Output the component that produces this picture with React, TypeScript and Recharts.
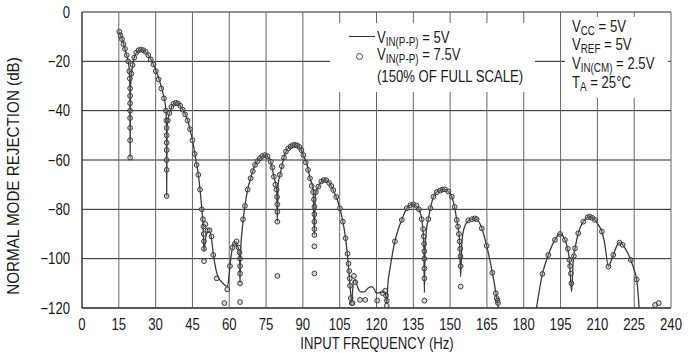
import {
  ComposedChart,
  Line,
  Scatter,
  XAxis,
  YAxis,
  CartesianGrid,
} from "recharts";

const font = "'Liberation Sans', Arial, sans-serif";
const squeeze = 0.82; // the datasheet font is a narrow Helvetica

const freqTicks = [0, 15, 30, 45, 60, 75, 90, 105, 120, 135, 150, 165, 180, 195, 210, 225, 240];
const dbTicks = [0, -20, -40, -60, -80, -100, -120];

// VIN(P-P) = 5V, solid line (null = curve is below -120 dB)
const lineFreq = [
  15.2, 16, 17, 18, 19, 19.5, 19.6, 19.8, 20.3, 21, 22, 23, 24.3, 25.5, 27, 28.5, 30, 31.5, 33, 34, 34.4, 34.5, 34.7,
  35.5, 36.5, 37.6, 38.6, 39.8, 41, 42.7, 44, 45.3, 46.3, 47.4, 48.3, 49, 49.3, 49.7, 50.3, 51, 51.9, 52.7, 53.5,
  54.5, 55.5, 57, 58.5, 59.3, 60, 60.5, 61.2, 62, 63, 63.8, 64.2, 64.4, 64.6, 65.3, 66.4, 67.5, 68.7, 70.5, 72.5,
  74.6, 76, 76.9, 78.2, 79.3, 79.6, 79.9, 81, 82, 83.1, 85, 86.8, 88.5, 90.2, 91.7, 92.9, 94.2, 94.7, 95.1, 96.3,
  97.5, 99, 100.7, 102.4, 104, 105.1, 106.3, 107.4, 108.3, 108.9, 109.3, 109.9, 110.5, 111.2, 112.3, 113.3, 115,
  116.5, 118, 119.2, 120, 121.5, 123.5, 124.2, 124.6, 125.5, 126.5, 127.5, 128.9, 130.3, 132.3, 133.7, 135, 136.2,
  137.3, 138.6, 139.3, 139.5, 139.8, 140.4, 141.1, 142.1, 143.2, 144.5, 145.9, 147.9, 149.3, 150.7, 151.8, 152.7,
  153.8, 154.3, 154.8, 155.6, 157, 158.8, 160.8, 162.9, 164.9, 167.2, 169, 169.6, 177, 185.2, 187.6, 190, 192.7,
  194.8, 196.8, 198.6, 199.5, 200.2, 200.9, 202.2, 204.3, 205.5, 207, 209, 210.5, 211.8, 213, 214.5, 215.5, 216.5,
  217.8, 219, 220.2, 221.3, 222.5, 223.6, 225, 226, 226.6, 227,
];
const lineDb = [
  -8, -10, -13, -17, -21, -28, -59, -30, -24, -19.5, -16.8, -15.6, -15.3, -15.8, -17.5, -20, -23.5, -27.5, -33, -38,
  -44, -74.6, -46, -41.5, -38.5, -37, -36.8, -37.8, -39.5, -42.8, -47.5, -53.5, -59.5, -66, -74, -82, -86, -97, -92,
  -89.5, -88.8, -91.5, -98, -104, -107.5, -109.5, -111, -111.3, -106, -101, -96, -94, -94.5, -96, -100, -110, -98,
  -88, -78.6, -72, -67.4, -62, -59.3, -58, -59, -60.7, -66.8, -72, -85, -70, -64.7, -60, -56.6, -54.5, -53.9, -54.6,
  -58, -62, -67.4, -72, -90.4, -74, -70.8, -68.8, -68.1, -69.2, -72.2, -76, -79.6, -85, -91.7, -100, -107, -112, -118,
  -110, -108.6, -111.5, -113.4, -113.5, -112, -111.3, -112.5, -114, -113.7, -113.8, -118, -111, -104, -98, -93, -88,
  -84.3, -79.6, -78.3, -78, -78.6, -80, -85, -95, -113.8, -96, -88, -84, -79, -74.9, -73, -72.4, -71.9, -72.8, -74.9,
  -79, -84.3, -92, -107.3, -93, -88, -85, -84, -84, -87.7, -94.8, -105.7, -116, -120, null, -120, -106.2, -98.5, -92.4,
  -90, -92.4, -100.5, -113.4, -100, -95.8, -89.7, -85, -83.5, -83, -84.3, -86.5, -89, -94, -103.2, -101, -98.5, -95,
  -93.5, -94.2, -95.8, -98, -100.5, -104.5, -108.4, -114, -120,
];

// VIN(P-P) = 7.5V, open circles
const circleFreq = [
  15.2, 15.7, 16.3, 16.9, 17.5, 18.2, 18.8, 19.3, 19.5, 19.6, 19.6, 19.6, 19.6, 19.6, 19.6, 19.6, 19.6, 20.1, 20.6,
  21.3, 22.1, 23, 24, 25, 26, 27, 28, 29.1, 30.1, 31.2, 32.3, 33.4, 34.2, 34.4, 34.5, 34.5, 34.5, 34.5, 34.5, 34.5,
  34.5, 35, 35.6, 36.4, 37.3, 38.2, 39.1, 40, 41, 42, 43, 44, 45, 45.9, 46.7, 47.4, 48.1, 48.8, 49.3, 49.5, 49.6,
  49.7, 49.7, 49.7, 50.3, 51.2, 52, 52.8, 53.5, 54.9, 58, 59.2, 60.3, 61.3, 62.3, 63, 63.8, 64.2, 64.4, 64.4, 64.4,
  64.4, 64.4, 65.6, 66.4, 67.5, 68.7, 69.6, 70.5, 71.5, 72.5, 73.5, 74.6, 75.6, 76.9, 77.6, 78.2, 78.8, 79.3, 79.5,
  79.6, 79.6, 79.6, 79.6, 80.6, 81.4, 82.3, 83.1, 84, 85, 85.9, 86.8, 87.7, 88.6, 89.4, 90.2, 91.2, 92.1, 92.9, 93.6,
  94.2, 94.5, 94.7, 94.7, 94.7, 94.7, 94.7, 94.7, 94.7, 95.3, 96.3, 97.5, 98.5, 99.5, 100.7, 101.6, 102.4, 103.6,
  105.1, 106.3, 107.4, 108.2, 108.6, 108.9, 109.1, 109.2, 109.5, 109.9, 110.2, 110.8, 111.3, 113.3, 115.4, 120.3,
  122.5, 123.6, 123.9, 124.2, 124.2, 127.5, 130.3, 132.3, 133.8, 135, 136.3, 137.3, 138.4, 139, 139.3, 139.4, 139.5,
  139.5, 139.5, 139.5, 139.5, 141.1, 142, 143.2, 144.6, 145.9, 146.9, 147.9, 149.3, 150.7, 151.8, 152.7, 153.2,
  153.6, 153.9, 154.1, 154.2, 154.3, 154.3, 157.4, 158.8, 160, 160.8, 162.9, 164.9, 167.2, 168.6, 169, 169.3, 169.5,
  187.6, 190, 192.7, 194.8, 196.8, 198, 198.6, 198.9, 199.2, 199.4, 200.4, 200.9, 202.2, 204.3, 206, 207, 208, 209,
  211.8, 214.5, 216.5, 219, 220.3, 223.6, 226, 233.5, 235,
];
const circleDb = [
  -8, -9.5, -11, -13, -15, -17.5, -20, -24, -27, -31, -34, -37, -40, -43, -47, -52, -59, -25, -21.5, -18.5, -16.5,
  -15.5, -15.2, -15.5, -16.2, -17.5, -19.2, -21.2, -24, -27.3, -31, -35, -40, -44, -47, -50, -53, -56, -60, -64, -74.6,
  -44, -41, -38.5, -37.2, -36.8, -37.1, -38, -39.6, -41.5, -44, -47.5, -52, -57.5, -62, -66, -72, -80, -84, -87, -90,
  -93, -96, -101, -86, -88.5, -88.5, -91, -98.5, -108, -118, -112.4, -103, -95.5, -94, -93, -95.5, -97.5, -100, -103,
  -106, -110, -117.6, -84, -78.6, -72, -67.4, -64.5, -62, -60.5, -59.3, -58.4, -58, -58.5, -60.7, -63, -66.8, -70,
  -72, -75, -78, -81, -85, -107, -66, -62.5, -59, -56.6, -55.3, -54.5, -54, -53.9, -54.1, -54.7, -56, -58, -61, -64,
  -67.4, -70.5, -73, -76, -79, -82, -85, -88, -90.4, -95, -106, -73, -70.8, -68.7, -68.1, -68.2, -69.3, -70.5, -72.2,
  -75, -79.6, -85, -91.7, -98, -102, -105, -108, -111, -116, -118, -118, -107, -109.5, -116.7, -116.7, -117, -114,
  -113, -115, -117, -119, -93, -84.3, -79.6, -78.3, -78, -78.5, -80, -84, -88, -91, -94, -97, -100, -104, -108, -117,
  -84, -79.5, -74.9, -73, -72.4, -72, -71.9, -72.8, -74.9, -79, -84.3, -87, -90, -93, -96, -99, -103, -111.3, -84.5,
  -84, -83.7, -84, -87.7, -94.8, -105.7, -114, -116, -117, -118, -106.2, -98.5, -92.4, -90, -92.4, -96, -100.5, -103,
  -106, -110, -99, -95.8, -89.7, -85, -83.2, -83, -83.5, -84.3, -89, -103.2, -98.5, -93.5, -94.4, -100.5, -108.4,
  -118.8, -118,
];

const lineData = lineFreq.map((f, i) => ({ f, db: lineDb[i] }));
const circleData = circleFreq.map((f, i) => ({ f, db: circleDb[i] }));

const fmtDb = (v: number) => (v < 0 ? `\u2212${-v}` : `${v}`);

// narrow tick text: scale horizontally around the anchor point
const NarrowTick = (props: any) => {
  const { x, y, payload, textAnchor, verticalAnchor, fmt } = props;
  const dy = verticalAnchor === "start" ? "0.71em" : "0.355em";
  return (
    <text
      transform={`translate(${x},${y}) scale(${squeeze},1)`}
      x={0}
      y={0}
      dy={dy}
      textAnchor={textAnchor}
      fontSize={16}
      fontFamily={font}
      fill="#1a1a1a"
    >
      {fmt ? fmt(payload.value) : payload.value}
    </text>
  );
};

const Sub = ({ children }: { children: string }) => (
  <span style={{ fontSize: 12, position: "relative", top: 3 }}>{children}</span>
);

const Narrow = ({ top, left, children }: { top: number; left: number; children: any }) => (
  <div
    style={{
      position: "absolute",
      top,
      left,
      fontSize: 16,
      lineHeight: "16px",
      whiteSpace: "nowrap",
      color: "#1a1a1a",
      transform: `scaleX(${squeeze})`,
      transformOrigin: "0 0",
    }}
  >
    {children}
  </div>
);

export default function App() {
  return (
    <div
      style={{
        position: "absolute",
        left: 0,
        top: 0,
        width: 695,
        height: 353,
        background: "#fff",
        fontFamily: font,
      }}
    >
      <ComposedChart width={695} height={353} margin={{ top: 12, right: 24, bottom: 0, left: 0 }}>
        <CartesianGrid vertical={false} stroke="#222" strokeWidth={1} />
        <CartesianGrid horizontal={false} stroke="#666" strokeWidth={1} />
        <XAxis
          type="number"
          dataKey="f"
          domain={[0, 240]}
          ticks={freqTicks}
          height={45}
          tickLine={false}
          tickSize={0}
          tickMargin={11}
          axisLine={{ stroke: "#222" }}
          tick={<NarrowTick />}
          interval={0}
        />
        <YAxis
          type="number"
          dataKey="db"
          domain={[-120, 0]}
          ticks={dbTicks}
          allowDataOverflow
          width={82}
          tickLine={false}
          tickSize={0}
          tickMargin={12}
          axisLine={{ stroke: "#222" }}
          tick={<NarrowTick fmt={fmtDb} />}
          interval={0}
        />
        <Line
          data={lineData}
          dataKey="db"
          type="monotone"
          stroke="#3a3a3a"
          strokeWidth={1.3}
          dot={false}
          activeDot={false}
          isAnimationActive={false}
        />
        <Scatter
          data={circleData}
          dataKey="db"
          isAnimationActive={false}
          shape={(p: any) => (
            <circle cx={p.cx} cy={p.cy} r={2.4} fill="#999" fillOpacity={0.35} stroke="#3a3a3a" strokeWidth={1} />
          )}
        />
      </ComposedChart>

      {/* axis titles */}
      <div
        style={{
          position: "absolute",
          left: 376.5,
          top: 335.5,
          fontSize: 16,
          lineHeight: "16px",
          whiteSpace: "nowrap",
          color: "#1a1a1a",
          transform: `translate(-50%, 0) scaleX(${squeeze})`,
        }}
      >
        INPUT FREQUENCY (Hz)
      </div>
      <div style={{ position: "absolute", left: 14, top: 176, width: 0, height: 0 }}>
        <div
          style={{
            position: "absolute",
            left: 0,
            top: 0,
            fontSize: 16,
            lineHeight: "16px",
            whiteSpace: "nowrap",
            color: "#1a1a1a",
            transform: `translate(-50%, -50%) rotate(-90deg) scaleX(0.95)`,
          }}
        >
          NORMAL MODE REJECTION (dB)
        </div>
      </div>

      {/* legend */}
      <div style={{ position: "absolute", left: 330, top: 23, width: 205, height: 69, background: "#fff" }}>
        <div style={{ position: "absolute", left: 19, top: 13, width: 26, borderTop: "1px solid #333" }} />
        <div
          style={{
            position: "absolute",
            left: 26,
            top: 30,
            width: 5,
            height: 5,
            borderRadius: "50%",
            border: "1px solid #444",
          }}
        />
        <Narrow top={7} left={47}>
          V<Sub>IN(P-P)</Sub> = 5V
        </Narrow>
        <Narrow top={24} left={47}>
          V<Sub>IN(P-P)</Sub> = 7.5V
        </Narrow>
        <Narrow top={46} left={47}>
          (150% OF FULL SCALE)
        </Narrow>
      </div>

      {/* test conditions */}
      <div style={{ position: "absolute", left: 565, top: 17, width: 103, height: 81, background: "#fff" }}>
        <Narrow top={2} left={7}>
          V<Sub>CC</Sub> = 5V
        </Narrow>
        <Narrow top={20} left={7}>
          V<Sub>REF</Sub> = 5V
        </Narrow>
        <Narrow top={39} left={7}>
          V<Sub>IN(CM)</Sub> = 2.5V
        </Narrow>
        <Narrow top={58} left={7}>
          T<Sub>A</Sub> = 25°C
        </Narrow>
      </div>
    </div>
  );
}
